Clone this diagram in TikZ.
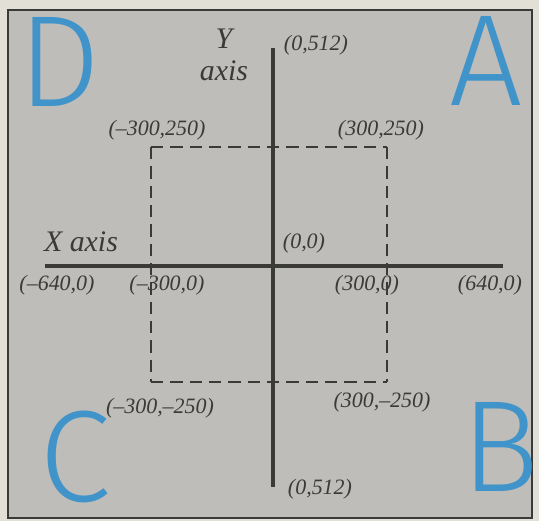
\documentclass[tikz,border=0pt]{standalone}
\usepackage{fontspec}
\setmainfont{Liberation Serif}
\newfontfamily\quadfont{Fira Sans Light}
\usetikzlibrary{positioning}
\definecolor{PaperCream}{RGB}{226, 223, 214}
\definecolor{PanelGray}{RGB}{190, 189, 185}
\definecolor{InkGray}{RGB}{58, 58, 56}
\definecolor{QuadBlue}{RGB}{64, 148, 202}

\begin{document}
\begin{tikzpicture}[x=0.02cm, y=-0.02cm,
        axis/.style={draw=InkGray, line width=1.9pt},
        window/.style={draw=InkGray, line width=1.1pt, dash pattern=on 7pt off 4pt},
        coordlabel/.style={text=InkGray, font=\itshape\fontsize{12.5}{13}\selectfont, inner sep=1pt},
        axislabel/.style={text=InkGray, font=\itshape\fontsize{17}{18.5}\selectfont, inner sep=0pt, align=center},
        quadrant/.style={text=QuadBlue, font=\quadfont\fontsize{74}{74}\selectfont, inner sep=0pt}]

        % paper and panel
        \fill[PaperCream] (0, 0) rectangle (539, 521);
        \useasboundingbox (0, 0) rectangle (539, 521);
        \filldraw[fill=PanelGray, draw=InkGray, line width=1.1pt] (8, 10) rectangle (532, 518);

        % axes
        \coordinate (ytop) at (273, 48);
        \coordinate (ybot) at (273, 487);
        \coordinate (xleft) at (45, 266);
        \coordinate (xright) at (503, 266);
        \draw[axis] (ytop) -- (ybot);
        \draw[axis] (xleft) -- (xright);

        % screen window
        \coordinate (tl) at (151, 147);
        \coordinate (tr) at (387, 147);
        \coordinate (br) at (387, 382);
        \coordinate (bl) at (151, 382);
        \draw[window] (tl) -- (tr);
        \draw[window] (tr) -- (br);
        \draw[window] (bl) -- (br);
        \draw[window] (tl) -- (bl);

        % axis names
        \node[axislabel] (ylab) at (224, 55) {Y\\axis};
        \node[axislabel] (xlab) at (81, 242) {X axis};

        % coordinate labels
        \node[coordlabel] (ytoplab) at (316, 45) {(0,512)};
        \node[coordlabel] (tllab) at (157, 130) {(--300,250)};
        \node[coordlabel] (trlab) at (381, 130) {(300,250)};
        \node[coordlabel] (olab) at (304, 243) {(0,0)};
        \node[coordlabel] (xleftlab) at (57, 285) {(--640,0)};
        \node[coordlabel] (xmlab) at (167, 285) {(--300,0)};
        \node[coordlabel] (xplab) at (367, 285) {(300,0)};
        \node[coordlabel] (xrightlab) at (490, 285) {(640,0)};
        \node[coordlabel] (bllab) at (160, 408) {(--300,--250)};
        \node[coordlabel] (brlab) at (382, 402) {(300,--250)};
        \node[coordlabel] (ybotlab) at (320, 489) {(0,512)};

        % quadrant letters
        \node[quadrant] (qd) at (60, 62) {D};
        \node[quadrant] (qa) at (486, 61) {A};
        \node[quadrant] (qc) at (75, 457) {C};
        \node[quadrant] (qb) at (500, 447) {B};
    \end{tikzpicture}
\end{document}
